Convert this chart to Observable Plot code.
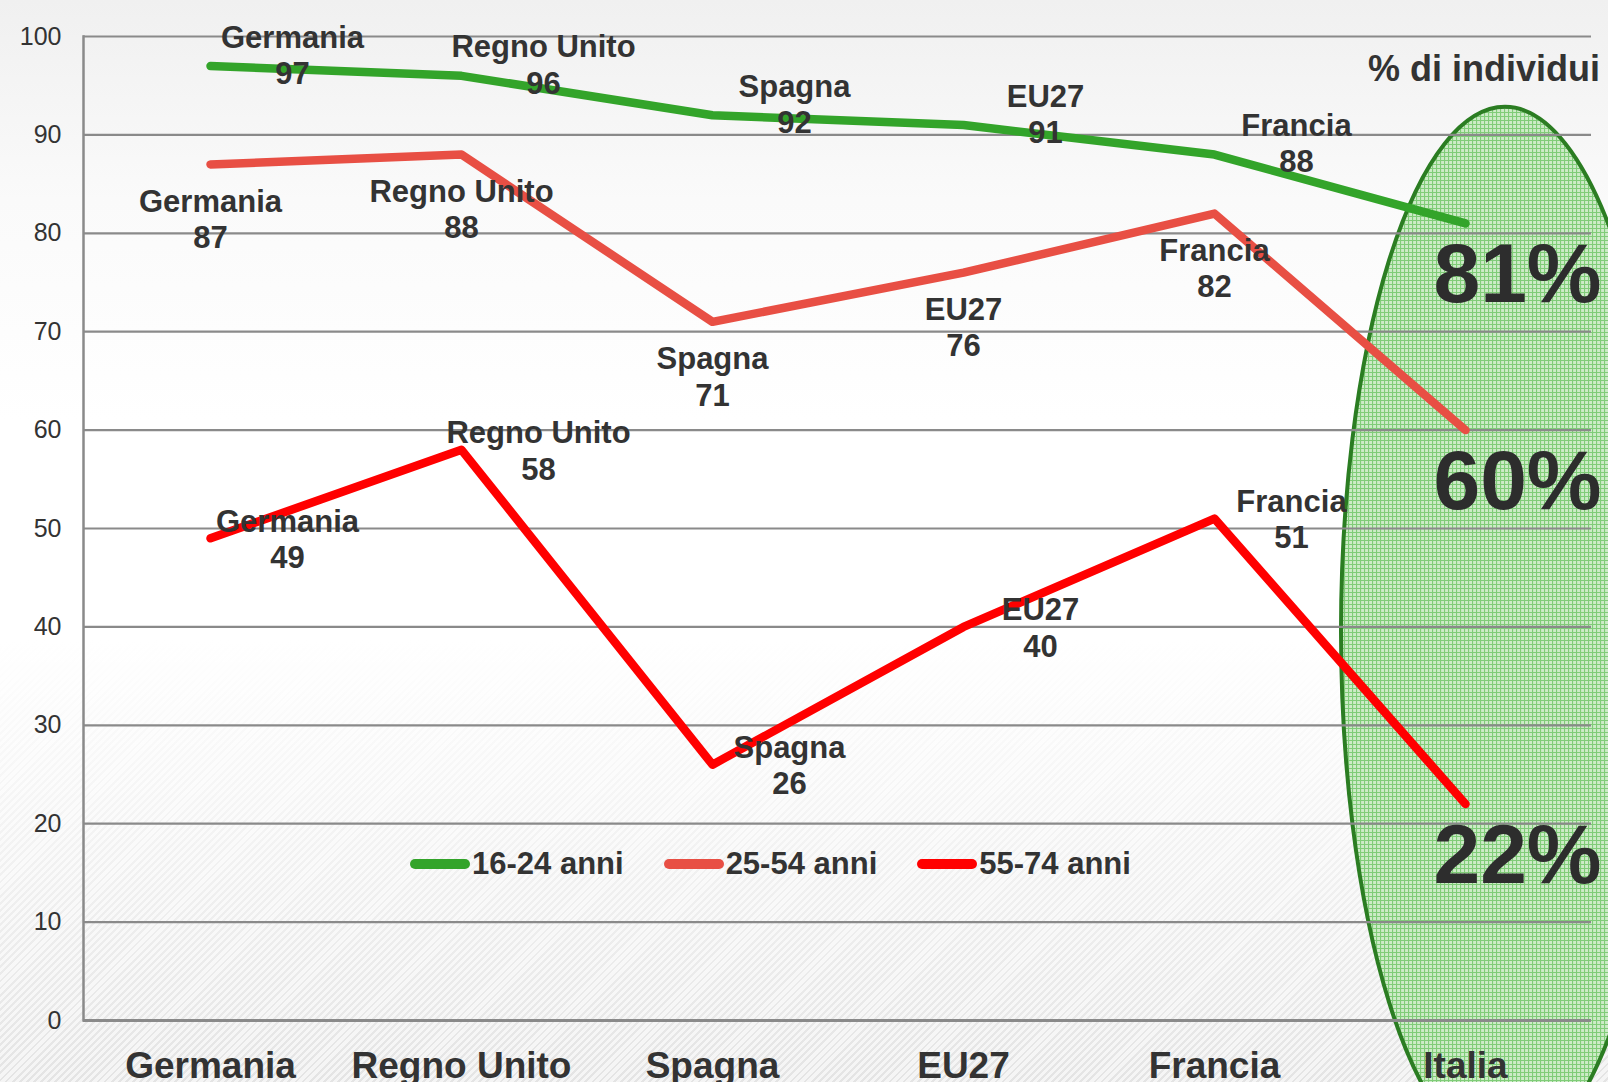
<!DOCTYPE html>
<html>
<head>
<meta charset="utf-8">
<script src="https://cdn.jsdelivr.net/npm/d3@7"></script>
<script src="https://cdn.jsdelivr.net/npm/@observablehq/plot@0.6"></script>
<style>
  html, body { margin: 0; padding: 0; }
  body {
    width: 1608px; height: 1082px; overflow: hidden;
    font-family: "Liberation Sans", Arial, sans-serif;
    background:
      linear-gradient(to bottom, rgba(240,240,240,1) 0px, rgba(250,250,250,1) 200px, rgba(255,255,255,1) 420px, rgba(255,255,255,1) 640px, rgba(255,255,255,0) 1082px),
      repeating-linear-gradient(135deg, #f5f5f5 0px, #f5f5f5 3px, #e4e4e4 3px, #e4e4e4 5px);
  }
  #wrap { position: relative; width: 1608px; height: 1082px; }
  #title {
    position: absolute; right: 8px; top: 51px; font-size: 36px; line-height: 1;
    font-weight: bold; color: #333; white-space: nowrap;
  }
  #legend {
    position: absolute; left: 410px; top: 844px; height: 40px;
    display: flex; align-items: center; gap: 40px;
    font-size: 31px; font-weight: bold; color: #333;
  }
  #legend .item { display: flex; align-items: center; }
  #legend .sw { width: 60px; height: 10px; border-radius: 5px; margin-right: 2px; }
</style>
</head>
<body>
<div id="wrap">
  <div id="chart"></div>
  <div id="title">% di individui</div>
  <div id="legend"></div>
</div>
<script>
// ---- data ----
const countries = ["Germania", "Regno Unito", "Spagna", "EU27", "Francia", "Italia"];
const seriesNames = ["16-24 anni", "25-54 anni", "55-74 anni"];
const values1624 = [97, 96, 92, 91, 88, 81];
const values2554 = [87, 88, 71, 76, 82, 60];
const values5574 = [49, 58, 26, 40, 51, 22];
const yTicks = [0, 10, 20, 30, 40, 50, 60, 70, 80, 90, 100];
const seriesColors = ["#33a42a", "#e84f44", "#ff0000"];
const highlighted = "Italia";

// ---- build table ----
const seriesValues = [values1624, values2554, values5574];
const rows = [];
seriesNames.forEach((s, i) => {
  countries.forEach((c, j) => rows.push({series: s, country: c, value: seriesValues[i][j]}));
});
const bySeries = s => rows.filter(d => d.series === s && d.country !== highlighted);
const italia = rows.filter(d => d.country === highlighted);

const labelStyle = {
  x: "country", y: "value",
  text: d => d.country + "\n" + d.value,
  fontSize: 31, fontWeight: "bold", lineHeight: 1.17, fill: "#333"
};

const chart = Plot.plot({
  width: 1608,
  height: 1082,
  marginLeft: 83,
  marginRight: 17,
  marginTop: 36,
  marginBottom: 62,
  style: {fontFamily: "'Liberation Sans', Arial, sans-serif", color: "#333", background: "transparent", overflow: "visible"},
  x: {type: "point", domain: countries, padding: 0.5, label: null},
  y: {domain: [0, 100], label: null},
  color: {domain: seriesNames, range: seriesColors},
  marks: [
    Plot.ruleY(yTicks.filter(t => t > 0), {stroke: "#8a8a8a", strokeWidth: 2.2}),
    Plot.ruleY([0], {stroke: "#8a8a8a", strokeWidth: 3}),
    Plot.frame({anchor: "left", stroke: "#8a8a8a", strokeWidth: 2.5}),
    Plot.axisY({ticks: yTicks, tickSize: 0, tickPadding: 22, fontSize: 25, label: null}),
    Plot.axisX({tickSize: 0, tickPadding: 31, fontSize: 37, fontWeight: "bold", label: null}),
    Plot.line(rows, {x: "country", y: "value", z: "series", stroke: "series", strokeWidth: 8.5, strokeLinecap: "round", strokeLinejoin: "round"}),
    Plot.text(bySeries(seriesNames[0]), {...labelStyle, dx: 82, dy: -12}),
    Plot.text(bySeries(seriesNames[1]), {...labelStyle, dx: 0, dy: 54}),
    Plot.text(bySeries(seriesNames[2]), {...labelStyle, dx: 77, dy: 0}),
    Plot.text(italia, {x: "country", y: "value", text: d => d.value + "%", dx: 52, dy: 52, fontSize: 84, fontWeight: "bold", fill: "#2d2d2d"})
  ]
});
document.getElementById("chart").appendChild(chart);

// ---- ellipse annotation around Italia ----
const xs = chart.scale("x"), ys = chart.scale("y");
const ellipseCenterValue = 39.5, ellipseTopValue = 92.8;
const ns = "http://www.w3.org/2000/svg";
const g = document.createElementNS(ns, "g");
const defs = document.createElementNS(ns, "defs");
defs.innerHTML = '<pattern id="grn" width="4" height="4" patternUnits="userSpaceOnUse">' +
  '<rect width="4" height="4" fill="#cdebc7"/>' +
  '<path d="M0 0.5H4M0.5 0V4" stroke="#80cc78" stroke-width="1.2"/></pattern>';
g.appendChild(defs);
const el = document.createElementNS(ns, "ellipse");
const cy = ys.apply(ellipseCenterValue);
el.setAttribute("cx", xs.apply(highlighted) + 40);
el.setAttribute("cy", cy);
el.setAttribute("rx", 164);
el.setAttribute("ry", cy - ys.apply(ellipseTopValue));
el.setAttribute("fill", "url(#grn)");
el.setAttribute("stroke", "#2b7d22");
el.setAttribute("stroke-width", 4);
g.appendChild(el);
chart.insertBefore(g, chart.querySelector("g"));
chart.style.overflow = "hidden";

// ---- legend ----
const legend = document.getElementById("legend");
seriesNames.forEach((s, i) => {
  const it = document.createElement("div");
  it.className = "item";
  it.innerHTML = `<div class="sw" style="background:${seriesColors[i]}"></div><span>${s}</span>`;
  legend.appendChild(it);
});
</script>
</body>
</html>
